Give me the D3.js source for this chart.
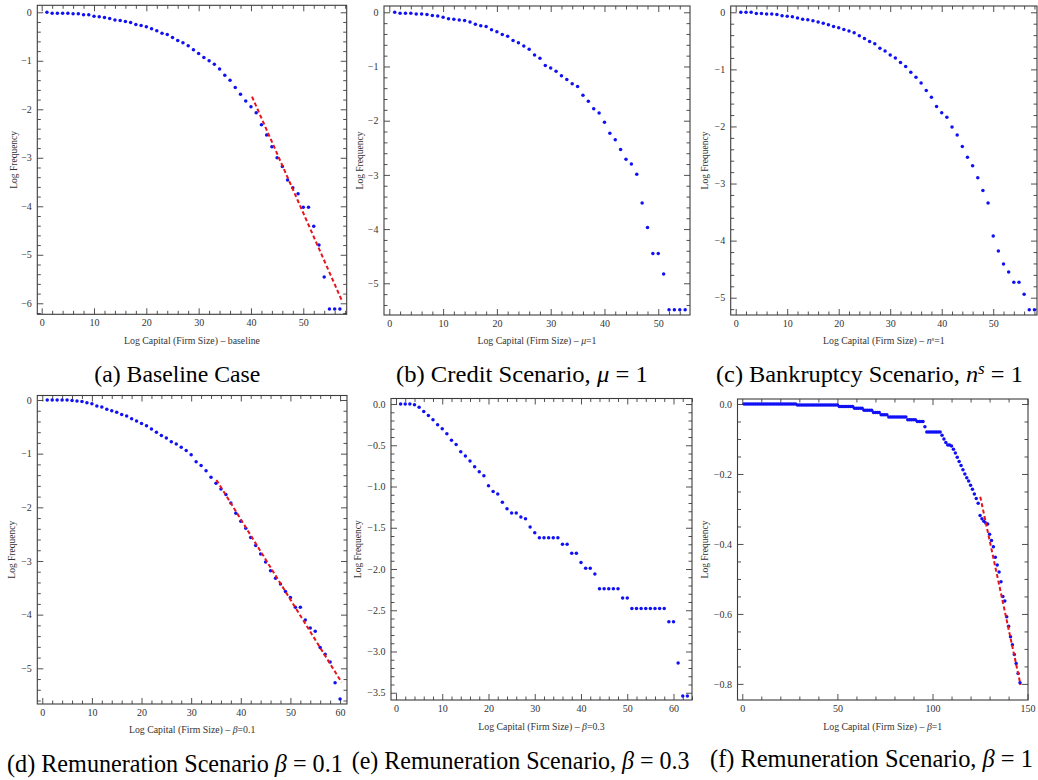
<!DOCTYPE html>
<html>
<head>
<meta charset="utf-8">
<title>Firm size distributions across scenarios</title>
<script src="https://cdn.jsdelivr.net/npm/d3@7"></script>
<style>
  html, body { margin: 0; padding: 0; background: #fff; }
  svg { display: block; }
  svg text { font-family: 'Liberation Serif', 'DejaVu Serif', 'Times New Roman', serif; }
</style>
</head>
<body>
<svg id="fig" width="1038" height="780"></svg>
<script>
// ---- Log frequency per log-capital bin (bins 1..n) ----
const baselineFreq = [
  0, -0.02, -0.02, -0.02, -0.02, -0.03, -0.03, -0.05, -0.05, -0.08,
  -0.09, -0.11, -0.13, -0.16, -0.17, -0.19, -0.21, -0.25, -0.27, -0.30,
  -0.34, -0.38, -0.43, -0.46, -0.52, -0.58, -0.63, -0.69, -0.77, -0.85,
  -0.93, -1.00, -1.07, -1.17, -1.30, -1.40, -1.55, -1.69, -1.83, -1.95,
  -2.07, -2.32, -2.53, -2.77, -3.00, -3.18, -3.46, -3.62, -3.74, -4.02,
  -4.02, -4.41, -4.80, -5.46, -6.12, -6.12, -6.12
];
const creditFreq = [
  0, -0.02, -0.02, -0.02, -0.03, -0.03, -0.04, -0.06, -0.07, -0.09,
  -0.12, -0.13, -0.14, -0.15, -0.18, -0.22, -0.25, -0.26, -0.32, -0.36,
  -0.41, -0.44, -0.52, -0.56, -0.62, -0.68, -0.79, -0.85, -0.98, -1.03,
  -1.09, -1.17, -1.24, -1.32, -1.37, -1.53, -1.64, -1.78, -1.86, -2.03,
  -2.23, -2.35, -2.53, -2.71, -2.80, -2.99, -3.52, -3.97, -4.45, -4.45,
  -4.83, -5.49, -5.49, -5.49, -5.49
];
const bankruptcyFreq = [
  0, 0, 0, -0.02, -0.02, -0.03, -0.03, -0.04, -0.06, -0.07,
  -0.08, -0.10, -0.12, -0.13, -0.15, -0.17, -0.19, -0.22, -0.25, -0.27,
  -0.30, -0.33, -0.36, -0.41, -0.46, -0.51, -0.55, -0.63, -0.68, -0.75,
  -0.80, -0.88, -0.95, -1.05, -1.14, -1.24, -1.37, -1.49, -1.65, -1.76,
  -1.84, -2.01, -2.15, -2.35, -2.54, -2.69, -2.90, -3.12, -3.34, -3.92,
  -4.18, -4.41, -4.55, -4.73, -4.73, -4.94, -5.21, -5.21
];
const remun01Freq = [
  0, 0, 0, 0, 0, -0.01, -0.02, -0.03, -0.05, -0.07,
  -0.11, -0.13, -0.17, -0.20, -0.23, -0.27, -0.30, -0.35, -0.39, -0.44,
  -0.48, -0.54, -0.60, -0.66, -0.71, -0.78, -0.82, -0.88, -0.94, -1.02,
  -1.15, -1.22, -1.32, -1.44, -1.55, -1.66, -1.76, -1.92, -2.11, -2.26,
  -2.39, -2.56, -2.71, -2.87, -3.02, -3.18, -3.32, -3.43, -3.57, -3.68,
  -3.86, -3.86, -4.10, -4.25, -4.31, -4.61, -4.74, -4.88, -5.27, -5.57
];
const remun03Freq = [
  0, 0, 0, -0.01, -0.04, -0.09, -0.14, -0.19, -0.25, -0.30,
  -0.36, -0.44, -0.49, -0.58, -0.63, -0.69, -0.76, -0.82, -0.87, -0.99,
  -1.06, -1.09, -1.19, -1.27, -1.32, -1.32, -1.37, -1.39, -1.49, -1.56,
  -1.62, -1.62, -1.62, -1.62, -1.62, -1.70, -1.70, -1.81, -1.81, -1.92,
  -1.99, -1.99, -2.06, -2.24, -2.24, -2.24, -2.24, -2.24, -2.35, -2.35,
  -2.48, -2.48, -2.48, -2.48, -2.48, -2.48, -2.48, -2.48, -2.64, -2.64,
  -3.14, -3.54, -3.54
];
const remun1Freq = [
  0, 0, 0, 0, 0, 0, 0, 0, 0, 0,
  0, 0, 0, 0, 0, 0, 0, 0, 0, 0,
  0, 0, 0, 0, 0, 0, 0, 0, -0.003, -0.003,
  -0.003, -0.003, -0.003, -0.003, -0.003, -0.003, -0.003, -0.003, -0.003, -0.003,
  -0.003, -0.003, -0.003, -0.003, -0.003, -0.003, -0.003, -0.003, -0.003, -0.003,
  -0.007, -0.007, -0.007, -0.007, -0.007, -0.007, -0.007, -0.007, -0.012, -0.012,
  -0.012, -0.012, -0.012, -0.018, -0.018, -0.018, -0.018, -0.018, -0.024, -0.024,
  -0.024, -0.024, -0.031, -0.031, -0.031, -0.031, -0.037, -0.037, -0.037, -0.037,
  -0.037, -0.037, -0.037, -0.037, -0.037, -0.037, -0.045, -0.045, -0.045, -0.045,
  -0.045, -0.050, -0.050, -0.050, -0.050, -0.065, -0.080, -0.080, -0.080, -0.080,
  -0.080, -0.080, -0.080, -0.080, -0.089, -0.100, -0.110, -0.117, -0.117, -0.120,
  -0.129, -0.140, -0.152, -0.164, -0.176, -0.188, -0.200, -0.211, -0.220, -0.232,
  -0.244, -0.257, -0.270, -0.284, -0.319, -0.328, -0.335, -0.340, -0.343, -0.372,
  -0.390, -0.408, -0.438, -0.460, -0.480, -0.508, -0.550, -0.563, -0.608, -0.635,
  -0.665, -0.688, -0.716, -0.742, -0.770, -0.797
];

// ---- Fitted power-law tails (endpoints: log capital, log frequency) ----
const baselineFit = [[40.2, -1.74], [57.4, -5.95]];
const remun01Fit  = [[35.1, -1.49], [60.3, -5.26]];
const remun1Fit   = [[125.1, -0.265], [146.3, -0.803]];

// ---- Tick labels ----
const xTicks50  = [0, 10, 20, 30, 40, 50];
const xTicks60  = [0, 10, 20, 30, 40, 50, 60];
const xTicks150 = [0, 50, 100, 150];
const yTicks6   = [0, -1, -2, -3, -4, -5, -6];
const yTicks5   = [0, -1, -2, -3, -4, -5];
const yTicksHalf  = [0, -0.5, -1, -1.5, -2, -2.5, -3, -3.5];
const yTicksFifth = [0, -0.2, -0.4, -0.6, -0.8];

// ---- Text ----
const yTitle = 'Log Frequency';
const xTitleStem = 'Log Capital (Firm Size) \u2013 ';

const INK = '#333';
const FRAME = '#3c3c3c';
const DOT = '#1010f5';
const FIT = '#e8141c';

const panels = [
  {
    vals: baselineFreq, fit: baselineFit,
    box: { l: 37.3, t: 5.3, r: 346.7, b: 314.3 },
    xDomain: [-0.84, 58.3], yDomain: [-6.227, 0.144],
    xMajor: xTicks50, xMinor: 2, yMajor: yTicks6, yMinor: 0.2, yFmt: 'd',
    yTitleX: 16.5, xTitleY: 344,
    xTitle: [[xTitleStem + 'baseline']],
    caption: { parts: [['(a) Baseline Case']], x: 94.3, len: 166, y: 382, size: 24 }
  },
  {
    vals: creditFreq, fit: null,
    box: { l: 384, t: 6, r: 690, b: 315 },
    xDomain: [-0.99, 55.9], yDomain: [-5.585, 0.116],
    xMajor: xTicks50, xMinor: 2, yMajor: yTicks5, yMinor: 0.2, yFmt: 'd',
    yTitleX: 363, xTitleY: 344,
    xTitle: [[xTitleStem], ['\u03bc', 'i'], ['=1']],
    caption: { parts: [['(b) Credit Scenario, '], ['\u03bc', 'i'], [' = 1']], x: 396, len: 252, y: 382, size: 24 }
  },
  {
    vals: bankruptcyFreq, fit: null,
    box: { l: 730.7, t: 6, r: 1037, b: 315 },
    xDomain: [-0.97, 58.5], yDomain: [-5.303, 0.11],
    xMajor: xTicks50, xMinor: 2, yMajor: yTicks5, yMinor: 0.2, yFmt: 'd',
    yTitleX: 708, xTitleY: 344,
    xTitle: [[xTitleStem], ['n', 'i'], ['s', 'sup'], ['=1', 'down']],
    caption: { parts: [['(c) Bankruptcy Scenario, '], ['n', 'i'], ['s', 'sup'], [' = 1', 'down']], x: 716, len: 307, y: 382, size: 24 }
  },
  {
    vals: remun01Freq, fit: remun01Fit,
    box: { l: 37.3, t: 395.5, r: 347, b: 704 },
    xDomain: [-1.0, 61.4], yDomain: [-5.665, 0.084],
    xMajor: xTicks60, xMinor: 2, yMajor: yTicks5, yMinor: 0.2, yFmt: 'd',
    yTitleX: 15, xTitleY: 732.5,
    xTitle: [[xTitleStem], ['\u03b2', 'i'], ['=0.1']],
    caption: { parts: [['(d) Remuneration Scenario '], ['\u03b2', 'i'], [' = 0.1']], x: 7, len: 336, y: 772, size: 26 }
  },
  {
    vals: remun03Freq, fit: null,
    box: { l: 391, t: 398.5, r: 692, b: 700 },
    xDomain: [-1.08, 64.0], yDomain: [-3.588, 0.067],
    xMajor: xTicks60, xMinor: 2, yMajor: yTicksHalf, yMinor: 0.1, yFmt: '.1f',
    yTitleX: 361, xTitleY: 729.5,
    xTitle: [[xTitleStem], ['\u03b2', 'i'], ['=0.3']],
    caption: { parts: [['(e) Remuneration Scenario, '], ['\u03b2', 'i'], [' = 0.3']], x: 351.7, len: 338, y: 768.5, size: 26 }
  },
  {
    vals: remun1Freq, fit: remun1Fit,
    box: { l: 737.5, t: 399, r: 1028, b: 700 },
    xDomain: [-2.52, 150.2], yDomain: [-0.846, 0.0143],
    xMajor: xTicks150, xMinor: 10, yMajor: yTicksFifth, yMinor: 0.05, yFmt: '.1f',
    yTitleX: 708, xTitleY: 729.5,
    xTitle: [[xTitleStem], ['\u03b2', 'i'], ['=1']],
    caption: { parts: [['(f) Remuneration Scenario, '], ['\u03b2', 'i'], [' = 1']], x: 710, len: 323, y: 767, size: 26 }
  }
];

const svg = d3.select('#fig');

// Tick positions between the labelled ones
function minorValues(domain, step, majors) {
  const lo = Math.ceil(domain[0] / step - 1e-9);
  const hi = Math.floor(domain[1] / step + 1e-9);
  const out = [];
  for (let k = lo; k <= hi; k++) {
    const v = +(k * step).toFixed(6);
    if (!majors.some(m => Math.abs(m - v) < step / 10)) out.push(v);
  }
  return out;
}

function styleAxis(sel) {
  sel.select('.domain').remove();
  sel.attr('font-family', null).attr('font-size', 10);
  sel.selectAll('line').attr('stroke', FRAME).attr('stroke-width', 0.9);
  sel.selectAll('text').attr('fill', INK);
}

// Rich text with italic / superscript runs
function richText(textSel, parts) {
  parts.forEach(([str, kind]) => {
    const t = textSel.append('tspan').text(str);
    if (kind === 'i' || kind === 'sup') t.attr('font-style', 'italic');
    if (kind === 'sup') t.attr('font-size', '0.7em').attr('dy', '-0.45em');
    if (kind === 'down') t.attr('dy', '0.315em');
  });
}

panels.forEach(p => {
  const { l, t, r, b } = p.box;
  const x = d3.scaleLinear().domain(p.xDomain).range([l, r]);
  const y = d3.scaleLinear().domain(p.yDomain).range([b, t]);
  const g = svg.append('g');

  const xMinorVals = minorValues(p.xDomain, p.xMinor, p.xMajor);
  const yMinorVals = minorValues(p.yDomain, p.yMinor, p.yMajor);
  const fmtY = d3.format(p.yFmt);

  // Bottom: labelled major ticks and minor ticks, pointing inward
  g.append('g').attr('transform', `translate(0,${b})`)
    .call(d3.axisBottom(x).tickValues(p.xMajor).tickSize(-6).tickPadding(5).tickFormat(d3.format('d')))
    .call(styleAxis);
  g.append('g').attr('transform', `translate(0,${b})`)
    .call(d3.axisBottom(x).tickValues(xMinorVals).tickSize(-3.5).tickFormat(''))
    .call(styleAxis);
  // Top mirror
  g.append('g').attr('transform', `translate(0,${t})`)
    .call(d3.axisTop(x).tickValues(p.xMajor).tickSize(-6).tickFormat(''))
    .call(styleAxis);
  g.append('g').attr('transform', `translate(0,${t})`)
    .call(d3.axisTop(x).tickValues(xMinorVals).tickSize(-3.5).tickFormat(''))
    .call(styleAxis);
  // Left: labelled
  g.append('g').attr('transform', `translate(${l},0)`)
    .call(d3.axisLeft(y).tickValues(p.yMajor).tickSize(-6).tickPadding(5.5).tickFormat(fmtY))
    .call(styleAxis);
  g.append('g').attr('transform', `translate(${l},0)`)
    .call(d3.axisLeft(y).tickValues(yMinorVals).tickSize(-3.5).tickFormat(''))
    .call(styleAxis);
  // Right mirror
  g.append('g').attr('transform', `translate(${r},0)`)
    .call(d3.axisRight(y).tickValues(p.yMajor).tickSize(-6).tickFormat(''))
    .call(styleAxis);
  g.append('g').attr('transform', `translate(${r},0)`)
    .call(d3.axisRight(y).tickValues(yMinorVals).tickSize(-3.5).tickFormat(''))
    .call(styleAxis);

  // Frame
  g.append('rect')
    .attr('x', l).attr('y', t)
    .attr('width', r - l).attr('height', b - t)
    .attr('fill', 'none').attr('stroke', FRAME).attr('stroke-width', 1.1);

  // Data points
  g.append('g').selectAll('circle')
    .data(p.vals)
    .join('circle')
    .attr('cx', (d, i) => x(i + 1))
    .attr('cy', d => y(d))
    .attr('r', 1.75)
    .attr('fill', DOT);

  // Fitted tail line
  if (p.fit) {
    g.append('path')
      .attr('d', d3.line().x(d => x(d[0])).y(d => y(d[1]))(p.fit))
      .attr('fill', 'none')
      .attr('stroke', FIT)
      .attr('stroke-width', 2)
      .attr('stroke-dasharray', '4,2.6');
  }

  // Axis titles
  g.append('text')
    .attr('transform', `translate(${p.yTitleX},${(t + b) / 2}) rotate(-90)`)
    .attr('text-anchor', 'middle')
    .attr('font-size', 9.5).attr('fill', INK)
    .text(yTitle);

  const xt = g.append('text')
    .attr('x', (l + r) / 2).attr('y', p.xTitleY)
    .attr('text-anchor', 'middle')
    .attr('font-size', 9.8).attr('fill', INK);
  richText(xt, p.xTitle);

  // Sub-figure caption, stretched to its column width
  const c = p.caption;
  const cg = svg.append('g');
  const ct = cg.append('text')
    .attr('x', 0).attr('y', 0)
    .attr('font-size', c.size).attr('fill', '#000');
  richText(ct, c.parts);
  const w = ct.node().getComputedTextLength();
  cg.attr('transform', `translate(${c.x},${c.y}) scale(${c.len / w},1)`);
});
</script>
</body>
</html>
